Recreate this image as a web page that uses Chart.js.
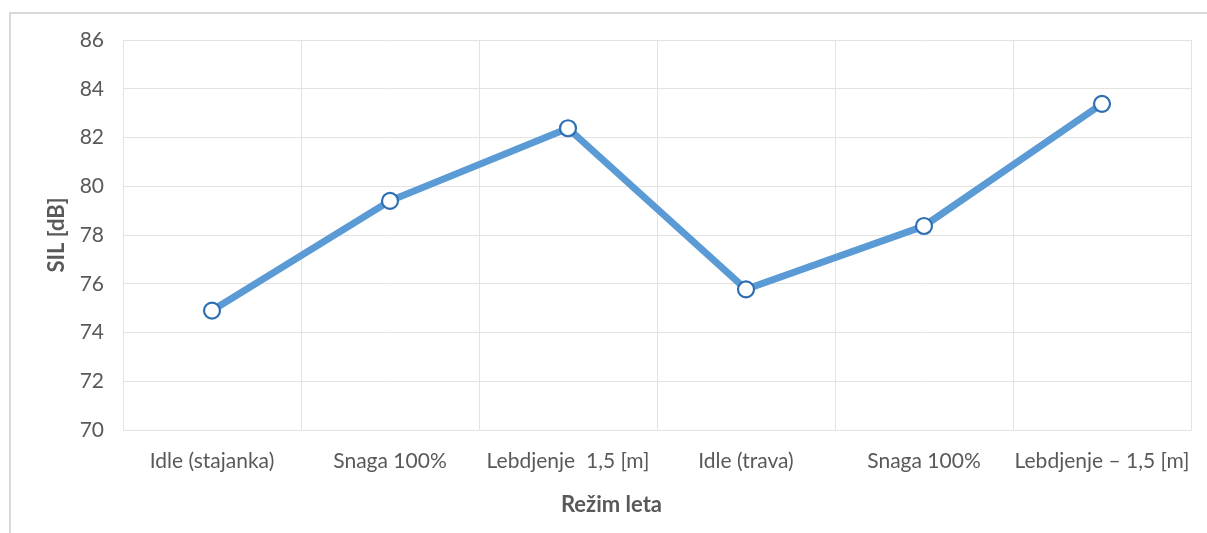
<!DOCTYPE html>
<html>
<head>
<meta charset="utf-8">
<script src="https://cdn.jsdelivr.net/npm/chart.js@4/dist/chart.umd.min.js"></script>
<style>
  html, body { margin: 0; padding: 0; background: #fff; overflow: hidden; }
  #frame { position: absolute; left: 9px; top: 12px; width: 1220px; height: 540px;
           border-left: 2px solid #d9d9d9; border-top: 2px solid #d9d9d9; }
  #myChart { position: absolute; left: 0; top: 0; }
</style>
</head>
<body>
<div id="frame"></div>
<canvas id="myChart" width="1207" height="533"></canvas>
<script>
var categories = ['Idle (stajanka)', 'Snaga 100%', 'Lebdjenje  1,5 [m]', 'Idle (trava)', 'Snaga 100%', 'Lebdjenje \u2013 1,5 [m]'];
var silValues = [74.9, 79.4, 82.38, 75.77, 78.37, 83.38];
var yTicks = [70, 72, 74, 76, 78, 80, 82, 84, 86];

var textColor = '#595959';
var gridColor = '#e3e3e3';
var fontFamily = 'Lato, "Open Sans", sans-serif';

// x axis title is centred on the whole chart box, like in Excel
var xTitlePlugin = {
    id: 'xTitle',
    afterDraw: function (chart) {
        var c = chart.ctx;
        c.save();
        c.font = 'bold 22px ' + fontFamily;
        c.fillStyle = textColor;
        c.textAlign = 'center';
        c.textBaseline = 'middle';
        c.fillText('Režim leta', chart.width / 2 + 8, 505);
        c.restore();
    }
};

var ctx = document.getElementById('myChart').getContext('2d');
var chart = new Chart(ctx, {
    type: 'line',
    data: {
        labels: categories,
        datasets: [{
            label: 'SIL',
            data: silValues,
            borderColor: '#5b9bd5',
            borderWidth: 7,
            pointRadius: 8,
            pointBorderWidth: 2.2,
            pointBorderColor: '#2e6fb3',
            pointBackgroundColor: '#ffffff',
            tension: 0
        }]
    },
    options: {
        responsive: false,
        animation: false,
        layout: { padding: { top: 40, right: 16, left: 0, bottom: 0 } },
        plugins: { legend: { display: false }, tooltip: { enabled: false } },
        scales: {
            x: {
                offset: true,
                grid: { offset: true, color: gridColor, drawTicks: false },
                border: { color: gridColor },
                ticks: { color: textColor, font: { family: fontFamily, size: 21 }, padding: 19, maxRotation: 0, autoSkip: false },
                afterFit: function (scale) {
                    scale.height = 103;
                    // labels fit inside their category, no extra side padding needed
                    scale.paddingLeft = 0;
                    scale.paddingRight = 0;
                }
            },
            y: {
                min: yTicks[0],
                max: yTicks[yTicks.length - 1],
                grid: { color: gridColor, drawTicks: false },
                border: { color: gridColor },
                afterBuildTicks: function (scale) {
                    scale.ticks = yTicks.map(function (v) { return { value: v }; });
                },
                ticks: { color: textColor, font: { family: fontFamily, size: 21 }, padding: 19 },
                title: {
                    display: true,
                    text: 'SIL [dB]',
                    color: textColor,
                    font: { family: fontFamily, size: 22, weight: 'bold' },
                    padding: { top: 44, bottom: 0 }
                },
                afterFit: function (scale) { scale.width = 123; }
            }
        }
    },
    plugins: [xTitlePlugin]
});
</script>
</body>
</html>
